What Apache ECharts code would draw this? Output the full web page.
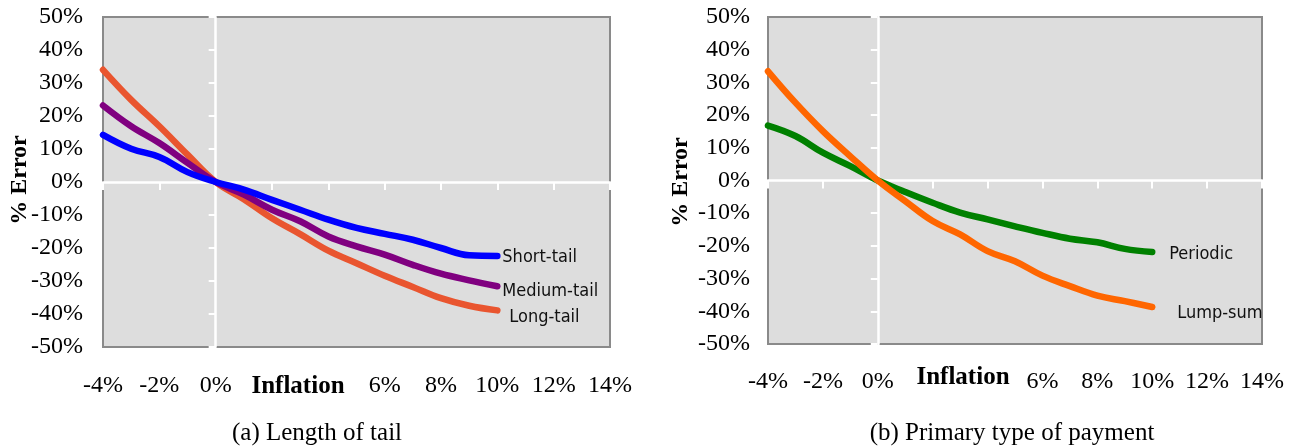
<!DOCTYPE html>
<html>
<head>
<meta charset="utf-8">
<script src="https://cdn.jsdelivr.net/npm/echarts@6/dist/echarts.min.js"></script>
<style>
html,body{margin:0;padding:0;background:#fff;}
#c{width:1294px;height:448px;}
</style>
</head>
<body>
<div id="c"></div>
<script>
// ---- data ----
const inflation = [-4, -3, -2, -1, 0, 1, 2, 3, 4, 5, 6, 7, 8, 9, 10];
const shortTail  = [14.3, 10.1, 7.6, 3.0, 0, -2.3, -5.4, -8.4, -11.4, -13.9, -15.7, -17.5, -20.0, -22.2, -22.4];
const mediumTail = [23.2, 16.9, 11.8, 5.8, 0, -3.8, -8.4, -11.9, -16.5, -19.5, -22.0, -25.1, -27.8, -29.8, -31.6];
const longTail   = [34.0, 24.9, 16.9, 8.3, 0, -5.2, -11.0, -15.8, -20.8, -24.6, -28.4, -31.8, -35.2, -37.5, -38.9];
const periodic   = [16.8, 13.6, 8.5, 4.4, 0, -3.5, -6.8, -9.8, -11.9, -14.0, -16.0, -17.8, -18.9, -20.9, -21.9];
const lumpSum    = [33.4, 23.8, 15.1, 7.4, 0, -6.3, -12.4, -16.5, -21.6, -24.7, -29.1, -32.3, -35.2, -36.9, -38.7];
const xTickLabels = ['-4%', '-2%', '0%', '', '', '6%', '8%', '10%', '12%', '14%'];
const yTickLabels = ['-50%', '-40%', '-30%', '-20%', '-10%', '0%', '10%', '20%', '30%', '40%', '50%'];

// ---- font detection for condensed label font ----
function hasFont(name) {
  const c = document.createElement('canvas').getContext('2d');
  const s = 'Short-tail Medium-tail 0123';
  c.font = '40px monospace';
  const a = c.measureText(s).width;
  c.font = '40px "' + name + '", monospace';
  const b = c.measureText(s).width;
  return Math.abs(a - b) > 0.5;
}
let labelFont = 'Liberation Sans', labelSize = 17;
if (hasFont('Liberation Sans Narrow')) { labelFont = 'Liberation Sans Narrow'; labelSize = 21; }
else if (hasFont('DejaVu Sans Condensed')) { labelFont = 'DejaVu Sans Condensed'; labelSize = 18; }

const serif = 'Liberation Serif';
const pair = (xs, ys) => xs.map((x, i) => [x, ys[i]]);

function labelAxesX(g, margin) {
  return [
    { gridIndex: g, type: 'value', min: -4, max: 14, interval: 2, position: 'bottom',
      axisLine: { show: false }, axisTick: { show: false }, splitLine: { show: false },
      axisLabel: { margin: margin, fontFamily: serif, fontSize: 24, color: '#000',
        formatter: (v, i) => xTickLabels[i] } },
    { gridIndex: g, type: 'value', min: -4, max: 14, interval: 2, position: 'top',
      axisLine: { show: true, onZero: true, lineStyle: { color: '#fff', width: 2.5 } },
      axisTick: { show: true, inside: true, length: 8, lineStyle: { color: '#fff', width: 2 } },
      axisLabel: { show: false }, splitLine: { show: false } }
  ];
}
function labelAxesY(g, margin) {
  return [
    { gridIndex: g, type: 'value', min: -50, max: 50, interval: 10, position: 'left',
      axisLine: { show: false }, axisTick: { show: false }, splitLine: { show: false },
      axisLabel: { margin: margin, fontFamily: serif, fontSize: 24, color: '#000',
        formatter: (v, i) => yTickLabels[i] } },
    { gridIndex: g, type: 'value', min: -50, max: 50, interval: 10, position: 'right',
      axisLine: { show: true, onZero: true, lineStyle: { color: '#fff', width: 2.5 } },
      axisTick: { show: true, inside: true, length: 7, lineStyle: { color: '#fff', width: 2 } },
      axisLabel: { show: false }, splitLine: { show: false } }
  ];
}
function lineSeries(name, ys, color, xi, yi, off) {
  return {
    name: name, type: 'line', xAxisIndex: xi, yAxisIndex: yi,
    data: pair(inflation, ys), showSymbol: false, smooth: 0.4,
    lineStyle: { color: color, width: 6.5, cap: 'round', join: 'round' },
    itemStyle: { color: color },
    endLabel: { show: true, formatter: '{a}', color: '#111', fontFamily: labelFont,
      fontSize: labelSize, offset: off },
    emphasis: { disabled: true }, animation: false
  };
}

const chart = echarts.init(document.getElementById('c'), null, { renderer: 'canvas' });
chart.setOption({
  animation: false,
  grid: [
    { left: 103, top: 17, width: 507, height: 330, show: true, backgroundColor: '#dddddd',
      borderColor: '#8a8a8a', borderWidth: 2 },
    { left: 768, top: 17, width: 494, height: 327, show: true, backgroundColor: '#dddddd',
      borderColor: '#8a8a8a', borderWidth: 2 }
  ],
  xAxis: [...labelAxesX(0, 27), ...labelAxesX(1, 26)],
  yAxis: [...labelAxesY(0, 20), ...labelAxesY(1, 18)],
  series: [
    lineSeries('Long-tail', longTail, '#e9552f', 0, 0, [4, 7]),
    lineSeries('Medium-tail', mediumTail, '#800080', 0, 0, [-3, 5]),
    lineSeries('Short-tail', shortTail, '#0000ff', 0, 0, [-3, 1]),
    lineSeries('Periodic', periodic, '#008000', 2, 2, [9, 2]),
    lineSeries('Lump-sum', lumpSum, '#ff6600', 2, 2, [17, 6])
  ],
  graphic: [
    { type: 'text', x: 298, y: 387, style: { text: 'Inflation', font: 'bold 25px "Liberation Serif"', fill: '#000', align: 'center', verticalAlign: 'middle' } },
    { type: 'text', x: 963, y: 378, style: { text: 'Inflation', font: 'bold 25px "Liberation Serif"', fill: '#000', align: 'center', verticalAlign: 'middle' } },
    { type: 'text', x: 20, y: 180, rotation: Math.PI / 2, style: { text: '% Error', font: 'bold 24px "Liberation Serif"', fill: '#000', align: 'center', verticalAlign: 'middle' } },
    { type: 'text', x: 681, y: 182, rotation: Math.PI / 2, style: { text: '% Error', font: 'bold 24px "Liberation Serif"', fill: '#000', align: 'center', verticalAlign: 'middle' } },
    { type: 'text', x: 317, y: 433, style: { text: '(a) Length of tail', font: '25px "Liberation Serif"', fill: '#000', align: 'center', verticalAlign: 'middle' } },
    { type: 'text', x: 1012, y: 433, style: { text: '(b) Primary type of payment', font: '25px "Liberation Serif"', fill: '#000', align: 'center', verticalAlign: 'middle' } }
  ]
});
</script>
</body>
</html>
